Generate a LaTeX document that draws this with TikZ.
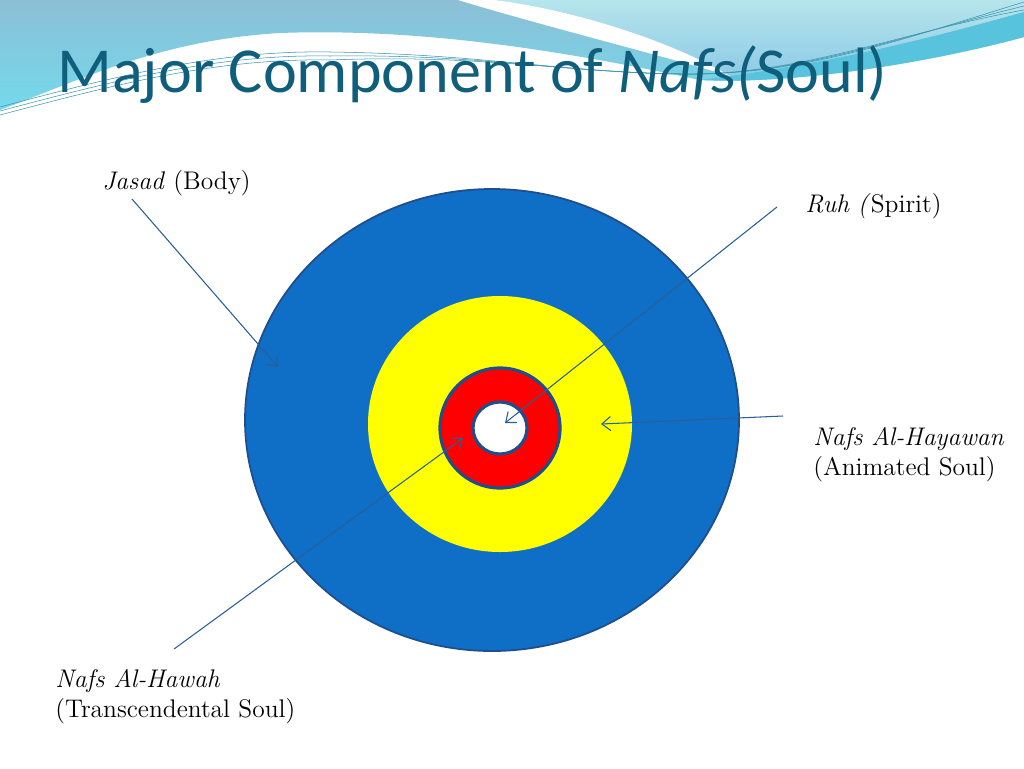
\documentclass[tikz,border=0pt]{standalone}
\usepackage{fontspec}
\usetikzlibrary{arrows.meta}
\newfontfamily\titlefont{Carlito}

\definecolor{bandtop}{HTML}{8CBFD6}
\definecolor{bandbot}{HTML}{74D9EB}
\definecolor{lighttop}{HTML}{B6E5EC}
\definecolor{lightbot}{HTML}{8ECAE6}
\definecolor{stripe}{HTML}{58C3DD}
\definecolor{thinline}{HTML}{3A95AD}
\definecolor{titleteal}{HTML}{0F5E7C}
\definecolor{bodyblue}{HTML}{0F6FC6}
\definecolor{rimblue}{HTML}{1F4E8C}
\definecolor{arrowblue}{HTML}{2A5F95}
\definecolor{coreyellow}{HTML}{FFFF00}

\tikzset{
  label/.style={anchor=base west, inner sep=0pt, align=left,
    font=\fontsize{14.5}{17}\selectfont},
  pointer/.style={draw=arrowblue, line width=0.6pt,
    -{Straight Barb[length=5pt,width=8pt]}},
  rim/.style={draw=rimblue, line width=1.8pt}
}

\begin{document}
\begin{tikzpicture}[x=0.02cm,y=-0.02cm]
  \useasboundingbox (0,0) rectangle (1024,768);
  \fill[white] (0,0) rectangle (1024,768);

  % Header waves
  \shade[top color=bandtop, bottom color=bandbot]
    (0,110) .. controls (80,80) and (160,40) .. (280,33)
    .. controls (420,28) and (560,50) .. (700,80)
    .. controls (800,85) and (940,60) .. (1024,37)
    -- (1024,0) -- (0,0) -- cycle;
  \shade[top color=lighttop, bottom color=lightbot]
    (495,0) .. controls (560,8) and (660,35) .. (730,76)
    .. controls (850,60) and (960,30) .. (1024,12) -- (1024,0) -- cycle;
  \fill[stripe]
    (730,76) .. controls (850,60) and (960,30) .. (1024,12)
    -- (1024,37) .. controls (940,60) and (800,85) .. (700,80)
    -- cycle;
  \fill[white]
    (495,0) .. controls (560,8) and (660,35) .. (730,76)
    .. controls (660,55) and (540,25) .. (458,0) -- cycle;
  \foreach \d in {0,4,8}
    \draw[thinline, line width=0.3pt]
      (0,107+\d) .. controls (120,75+\d) and (220,50+\d) .. (330,52+\d)
      .. controls (480,54) and (560,72) .. (680,74)
      .. controls (800,76) and (900,40-\d) .. (1024,2+\d);

  % Title
  \node[anchor=base west, inner sep=0pt, text=titleteal,
    font=\titlefont\fontsize{36.5}{40}\selectfont] (title) at (57,92)
    {Major Component of \textit{Nafs(}Soul)};

  % Rings
  \filldraw[fill=bodyblue, draw=rimblue, line width=1pt]
    (492,420) ellipse [x radius=247, y radius=231];
  \fill[coreyellow] (500,424) ellipse [x radius=132, y radius=128];
  \filldraw[fill=red, rim] (500,428) circle [radius=60];
  \filldraw[fill=white, rim] (500,428) ellipse [x radius=27, y radius=26];

  % Labels
  \node[label] (jasad) at (102,189) {\textit{Jasad} (Body)};
  \node[label] (ruh) at (805,212) {\textit{Ruh (}Spirit)};
  \node[label] (hayawan) at (813,475) {\textit{Nafs Al-Hayawan}\\(Animated Soul)};
  \node[label] (hawah) at (55,717) {\textit{Nafs Al-Hawah}\\(Transcendental Soul)};

  % Pointers
  \coordinate (jasad-tail) at (132,199);
  \coordinate (jasad-tip) at (278,367);
  \coordinate (ruh-tail) at (777,207);
  \coordinate (ruh-tip) at (505,423);
  \coordinate (hayawan-tail) at (783,416);
  \coordinate (hayawan-tip) at (601,424);
  \coordinate (hawah-tail) at (174,649);
  \coordinate (hawah-tip) at (463,438);
  \draw[pointer] (jasad-tail) -- (jasad-tip);
  \draw[pointer] (ruh-tail) -- (ruh-tip);
  \draw[pointer] (hayawan-tail) -- (hayawan-tip);
  \draw[pointer] (hawah-tail) -- (hawah-tip);
\end{tikzpicture}
\end{document}
